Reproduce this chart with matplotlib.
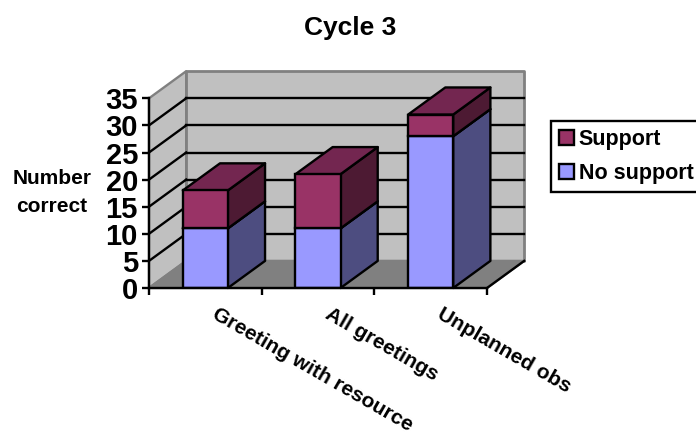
import numpy as np
import matplotlib
matplotlib.use('Agg')
import matplotlib.pyplot as plt
from matplotlib.patches import Polygon
from matplotlib.transforms import ScaledTranslation

plt.rcParams['font.family'] = ['Liberation Sans', 'DejaVu Sans']
plt.rcParams['font.weight'] = 'bold'

categories = ['Greeting with resource', 'All greetings', 'Unplanned obs']
no_support = [11, 11, 28]
support = [7, 10, 4]
y_ticks = [0, 5, 10, 15, 20, 25, 30, 35]

W, H = 696, 436
BAR_W = 0.4
LW = 1.7
# depth of the fake 3d box, in data units
DX, DY = 0.33, 5.0

def shade(ax, pts, color, z, ec='black', lw=LW):
    ax.add_patch(Polygon(pts, closed=True, fc=color, ec=ec, lw=lw, zorder=z,
                         clip_on=False, joinstyle='round'))

def draw_block(ax, x, y0, y1, colors, z):
    l, r = x - BAR_W / 2, x + BAR_W / 2
    shade(ax, [(r, y0), (r + DX, y0 + DY), (r + DX, y1 + DY), (r, y1)], colors[1], z)
    shade(ax, [(l, y1), (r, y1), (r + DX, y1 + DY), (l + DX, y1 + DY)], colors[2], z)

fig = plt.figure(figsize=(W / 100, H / 100), dpi=100)
ax = fig.add_axes([149 / W, 1 - 288 / H, (487 - 149) / W, (288 - 98.3) / H])
ax.set_xlim(-0.5, 2.5)
ax.set_ylim(0, 35)
ax.patch.set_visible(False)
for s in ['top', 'right']:
    ax.spines[s].set_visible(False)
for s in ['left', 'bottom']:
    ax.spines[s].set_linewidth(LW)
    ax.spines[s].set_zorder(8)

x0, x1 = -0.5, 2.5
top = y_ticks[-1]
# walls and floor
shade(ax, [(x0, 0), (x0 + DX, DY), (x0 + DX, top + DY), (x0, top)], '#C0C0C0', 1, ec='#808080')
shade(ax, [(x0 + DX, DY), (x1 + DX, DY), (x1 + DX, top + DY), (x0 + DX, top + DY)], '#C0C0C0', 1, ec='#808080', lw=2)
shade(ax, [(x0, 0), (x1, 0), (x1 + DX, DY), (x0 + DX, DY)], '#808080', 1, ec='#808080')
ax.plot([x1, x1 + DX], [0, DY], color='black', lw=LW, zorder=2, clip_on=False)

# gridlines on both walls
for v in y_ticks[1:-1]:
    ax.plot([x0, x0 + DX], [v, v + DY], color='black', lw=LW, zorder=2, clip_on=False)
    ax.plot([x0 + DX, x1 + DX], [v + DY, v + DY], color='black', lw=LW, zorder=2, clip_on=False)

xs = np.arange(len(categories))
bottoms = np.array(no_support)
tops = bottoms + np.array(support)

b1 = ax.bar(xs, no_support, BAR_W, color='#9999FF', edgecolor='black', lw=LW,
            label='No support', zorder=5)
b2 = ax.bar(xs, support, BAR_W, bottom=no_support, color='#993366', edgecolor='black', lw=LW,
            label='Support', zorder=5)
for i, x in enumerate(xs):
    draw_block(ax, x, 0, bottoms[i], ('#9999FF', '#4D4D80', '#9999FF'), 4)
    draw_block(ax, x, bottoms[i], tops[i], ('#993366', '#4D1A33', '#732650'), 4)

ax.set_yticks(y_ticks)
ax.tick_params(axis='y', labelsize=21, width=LW, length=5, pad=3)
ax.set_xticks(xs)
ax.set_xticklabels(categories, rotation=-30, ha='left', rotation_mode='anchor', fontsize=15)
ax.tick_params(axis='x', which='major', length=0, pad=12)
ax.set_xticks([0.5, 1.5, 2.5, -0.5], minor=True)
ax.tick_params(axis='x', which='minor', width=LW, length=5)
offset = ScaledTranslation(13 / 100, 0, fig.dpi_scale_trans)
for lab in ax.get_xticklabels():
    lab.set_transform(lab.get_transform() + offset)

fig.text(350 / W, 1 - 28.5 / H, 'Cycle 3', fontsize=19, fontweight='bold', ha='center', va='center')
fig.text(52 / W, 1 - 192 / H, 'Number\ncorrect', fontsize=15, fontweight='bold', ha='center',
         va='center', linespacing=1.6)

leg = ax.legend([b2, b1], ['Support', 'No support'], loc='upper left',
                bbox_to_anchor=(551 / W, 1 - 121 / H), bbox_transform=fig.transFigure,
                fontsize=15.5, frameon=True, fancybox=False, framealpha=1, edgecolor='black',
                borderaxespad=0, handlelength=0.7, handleheight=0.7, handletextpad=0.23,
                labelspacing=0.62, borderpad=0.36)
leg.get_frame().set_linewidth(LW)
leg.set_zorder(10)

fig.savefig('out.png', dpi=100)
plt.close(fig)
